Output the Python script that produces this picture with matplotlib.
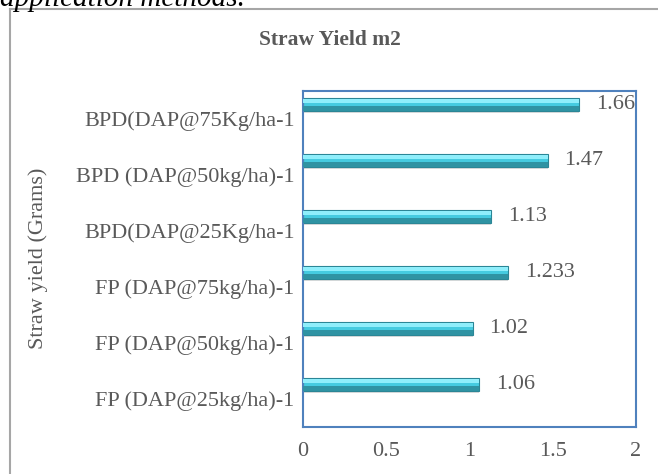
import matplotlib.pyplot as plt
from matplotlib.lines import Line2D

plt.rcParams['font.family'] = ['Liberation Serif', 'DejaVu Serif']

# data (bottom to top)
treatments = ['FP (DAP@25kg/ha)-1', 'FP (DAP@50kg/ha)-1', 'FP (DAP@75kg/ha)-1',
              'BPD(DAP@25Kg/ha-1', 'BPD (DAP@50kg/ha)-1', 'BPD(DAP@75Kg/ha-1']
straw_yield = [1.06, 1.02, 1.233, 1.13, 1.47, 1.66]
value_labels = ['1.06', '1.02', '1.233', '1.13', '1.47', '1.66']
x_ticks = [0, 0.5, 1, 1.5, 2]
x_ticklabels = ['0', '0.5', '1', '1.5', '2']

txt_col = '#595959'

fig = plt.figure(figsize=(6.58, 4.74), dpi=100)
W, H = 658, 474
ax = fig.add_axes([303 / W, 1 - 427 / H, 333 / W, 336 / H])

ypos = list(range(len(treatments)))
# the 3-D bars sit in the upper part of each category slot
bar_y = [y + 0.26 for y in ypos]
bh = 0.24
# shadow
ax.barh([y - 0.1 for y in bar_y], straw_yield, height=0.12, color='#DCDCDC', zorder=1)
# body
ax.barh(bar_y, straw_yield, height=bh, color='#45CBE0', edgecolor='#2B8696', linewidth=0.8, zorder=2)
# lower dark band
ax.barh([y - 0.07 for y in bar_y], straw_yield, height=0.09, color='#2F93A3', zorder=3)
# top highlight
ax.barh([y + 0.06 for y in bar_y], straw_yield, height=0.07, color='#8FEEFB', zorder=3)

for y, v, lab in zip(bar_y, straw_yield, value_labels):
    ax.annotate(lab, (v, y), xytext=(12, 0), textcoords='offset points',
                ha='left', va='center', fontsize=16, color=txt_col)

ax.set_xlim(0, 2)
ax.set_ylim(-0.5, len(treatments) - 0.5)
ax.set_xticks(x_ticks)
ax.set_xticklabels(x_ticklabels)
ax.set_yticks(ypos)
ax.set_yticklabels(treatments)
ax.tick_params(axis='both', length=0, labelsize=16, labelcolor=txt_col)
ax.tick_params(axis='x', pad=11)
ax.tick_params(axis='y', pad=6)
for sp in ax.spines.values():
    sp.set_color('#4F81BD')
    sp.set_linewidth(1.5)

fig.text(38 / W, 1 - 258 / H, 'Straw yield (Grams)', rotation=90, ha='center', va='center',
         fontsize=16, color=txt_col)
fig.text(330 / W, 1 - 40 / H, 'Straw Yield m2', ha='center', va='center',
         fontsize=15.5, fontweight='bold', color=txt_col)

# chart area border (cut by the page edge)
fig.add_artist(Line2D([10 / W, 10 / W], [-0.1, 1 - 9 / H], transform=fig.transFigure,
                      color='#A6A6A6', linewidth=1.5))
fig.add_artist(Line2D([10 / W, 1.1], [1 - 9 / H, 1 - 9 / H], transform=fig.transFigure,
                      color='#A6A6A6', linewidth=1.5))

# caption fragment above the chart (cut by the page edge, as in the source)
fig.text(0, 1 - 6 / H, 'application methods.', ha='left', va='baseline',
         fontsize=21, fontstyle='italic', color='black')

fig.savefig('out.png', dpi=100)
